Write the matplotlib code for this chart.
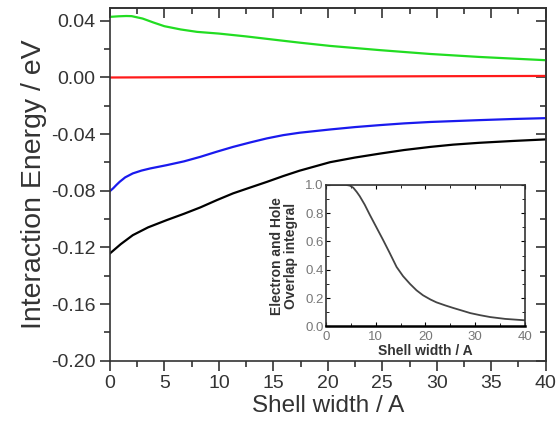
import matplotlib.pyplot as plt
from matplotlib.ticker import MultipleLocator, FuncFormatter

plt.rcParams['font.family'] = ['Liberation Sans', 'DejaVu Sans']

# Interaction energy curves (eV) versus shell width (A)
x_green = [0, 0.8, 1.5, 2, 3, 4, 5, 6.5, 8, 10, 12.5, 15.6, 17.4, 20.2, 24.8, 29.4, 33.9, 40]
green = [0.0428, 0.0432, 0.0434, 0.0433, 0.0416, 0.0388, 0.0362, 0.0339, 0.0322, 0.0310,
         0.0290, 0.0262, 0.0246, 0.0223, 0.0193, 0.0166, 0.0145, 0.0122]

x_red = [0, 10, 20, 30, 40]
red = [0.0, 0.0003, 0.0006, 0.0009, 0.0011]

x_blue = [0, 0.3, 0.6, 0.9, 1.4, 2.1, 2.9, 3.7, 5.2, 6.8, 8.3, 9.8, 11.3, 12.9, 14.4, 15.9,
          17.4, 20.2, 22.5, 24.8, 27, 29.4, 33.9, 37, 40]
blue = [-0.0802, -0.0782, -0.0758, -0.0736, -0.0705, -0.0677, -0.0657, -0.0642, -0.0619,
        -0.0592, -0.0560, -0.0524, -0.0490, -0.0458, -0.0430, -0.0407, -0.0390, -0.0367,
        -0.0350, -0.0336, -0.0324, -0.0314, -0.0301, -0.0293, -0.0287]

x_black = [0, 1, 2.1, 3.5, 5.2, 6.8, 8.3, 9.8, 11.3, 12.9, 14.4, 15.9, 17.4, 20.2, 22.5, 24.8,
           27, 29.4, 31.5, 33.9, 37, 40]
black = [-0.1242, -0.1176, -0.1113, -0.1058, -0.1007, -0.0962, -0.0917, -0.0866, -0.0818,
         -0.0776, -0.0737, -0.0696, -0.0658, -0.0598, -0.0565, -0.0537, -0.0512, -0.0490,
         -0.0474, -0.0461, -0.0448, -0.0437]

# Inset: electron and hole overlap integral
x_overlap = [0, 2, 4, 4.8, 5.5, 6.2, 6.8, 7.8, 8.8, 10, 11.5, 12.8, 14.2, 15.5, 16.9, 18.2,
             19.5, 21, 22.2, 24, 25.6, 27.5, 29, 31, 33, 36, 40]
overlap = [1.0, 1.0, 1.0, 0.995, 0.98, 0.95, 0.92, 0.86, 0.79, 0.71, 0.61, 0.52, 0.42, 0.355,
           0.30, 0.255, 0.22, 0.19, 0.17, 0.148, 0.13, 0.11, 0.094, 0.079, 0.066, 0.053, 0.043]

fig = plt.figure(figsize=(5.58, 4.25), dpi=100)
ax = fig.add_axes([0.197, 0.151, 0.781, 0.830])

ax.plot(x_green, green, color='#22dd22', lw=1.6)
ax.plot(x_red, red, color='#ff1a1a', lw=1.6)
ax.plot(x_blue, blue, color='#1a1aee', lw=1.6)
ax.plot(x_black, black, color='black', lw=1.6)

ax.set_xlim(0, 40)
ax.set_ylim(-0.2, 0.049)
ax.xaxis.set_major_locator(MultipleLocator(5))
ax.xaxis.set_minor_locator(MultipleLocator(2.5))
ax.yaxis.set_major_locator(MultipleLocator(0.04))
ax.yaxis.set_minor_locator(MultipleLocator(0.02))
ax.yaxis.set_major_formatter(FuncFormatter(lambda v, p: '%.2f' % (0.0 if abs(v) < 1e-9 else v)))
ax.tick_params(which='both', direction='out', labelsize=14, labelcolor='#333333', width=1.2,
               color='#333333')
ax.tick_params(which='major', length=7)
ax.tick_params(which='minor', length=4)
for s in ax.spines.values():
    s.set_linewidth(1.2)
    s.set_color('#333333')

# inward ticks on top and right
top = ax.secondary_xaxis('top')
top.xaxis.set_major_locator(MultipleLocator(5))
top.xaxis.set_minor_locator(MultipleLocator(2.5))
top.tick_params(which='both', direction='in', labeltop=False, width=1.2, color='#333333')
top.tick_params(which='major', length=7)
top.tick_params(which='minor', length=4)
right = ax.secondary_yaxis('right')
right.yaxis.set_major_locator(MultipleLocator(0.04))
right.yaxis.set_minor_locator(MultipleLocator(0.02))
right.tick_params(which='both', direction='in', labelright=False, width=1.2, color='#333333')
right.tick_params(which='major', length=7)
right.tick_params(which='minor', length=4)
for sec in (top, right):
    for s in sec.spines.values():
        s.set_linewidth(1.2)
        s.set_color('#333333')

ax.set_xlabel('Shell width / A', fontsize=17.5, color='#333333', labelpad=2)
ax.set_ylabel('Interaction Energy / eV', fontsize=20.5, color='#333333', labelpad=3)

# Inset
ins = fig.add_axes([0.584, 0.232, 0.357, 0.333])
ins.plot(x_overlap, overlap, color='#444444', lw=1.3)
ins.set_xlim(0, 40)
ins.set_ylim(0, 1.0)
ins.xaxis.set_major_locator(MultipleLocator(10))
ins.xaxis.set_minor_locator(MultipleLocator(5))
ins.yaxis.set_major_locator(MultipleLocator(0.2))
ins.yaxis.set_minor_locator(MultipleLocator(0.1))
ins.yaxis.set_major_formatter(plt.FormatStrFormatter('%.1f'))
ins.tick_params(which='both', direction='in', top=True, right=True, labelsize=9.5,
                labelcolor='#777777')
ins.tick_params(axis='y', pad=1.5)
ins.tick_params(axis='x', pad=3)
ins.tick_params(which='major', length=3)
ins.tick_params(which='minor', length=2)
for s in ins.spines.values():
    s.set_linewidth(1.2)
    s.set_color('#333333')
ins.spines['bottom'].set_linewidth(1.8)
ins.spines['bottom'].set_color('black')
ins.set_xlabel('Shell width / A', fontsize=10, fontweight='bold', color='#333333', labelpad=1)
ins.set_ylabel('Electron and Hole\nOverlap integral', fontsize=10, fontweight='bold',
               color='#333333', labelpad=5, linespacing=1.0)

fig.savefig('out.png', dpi=100)
